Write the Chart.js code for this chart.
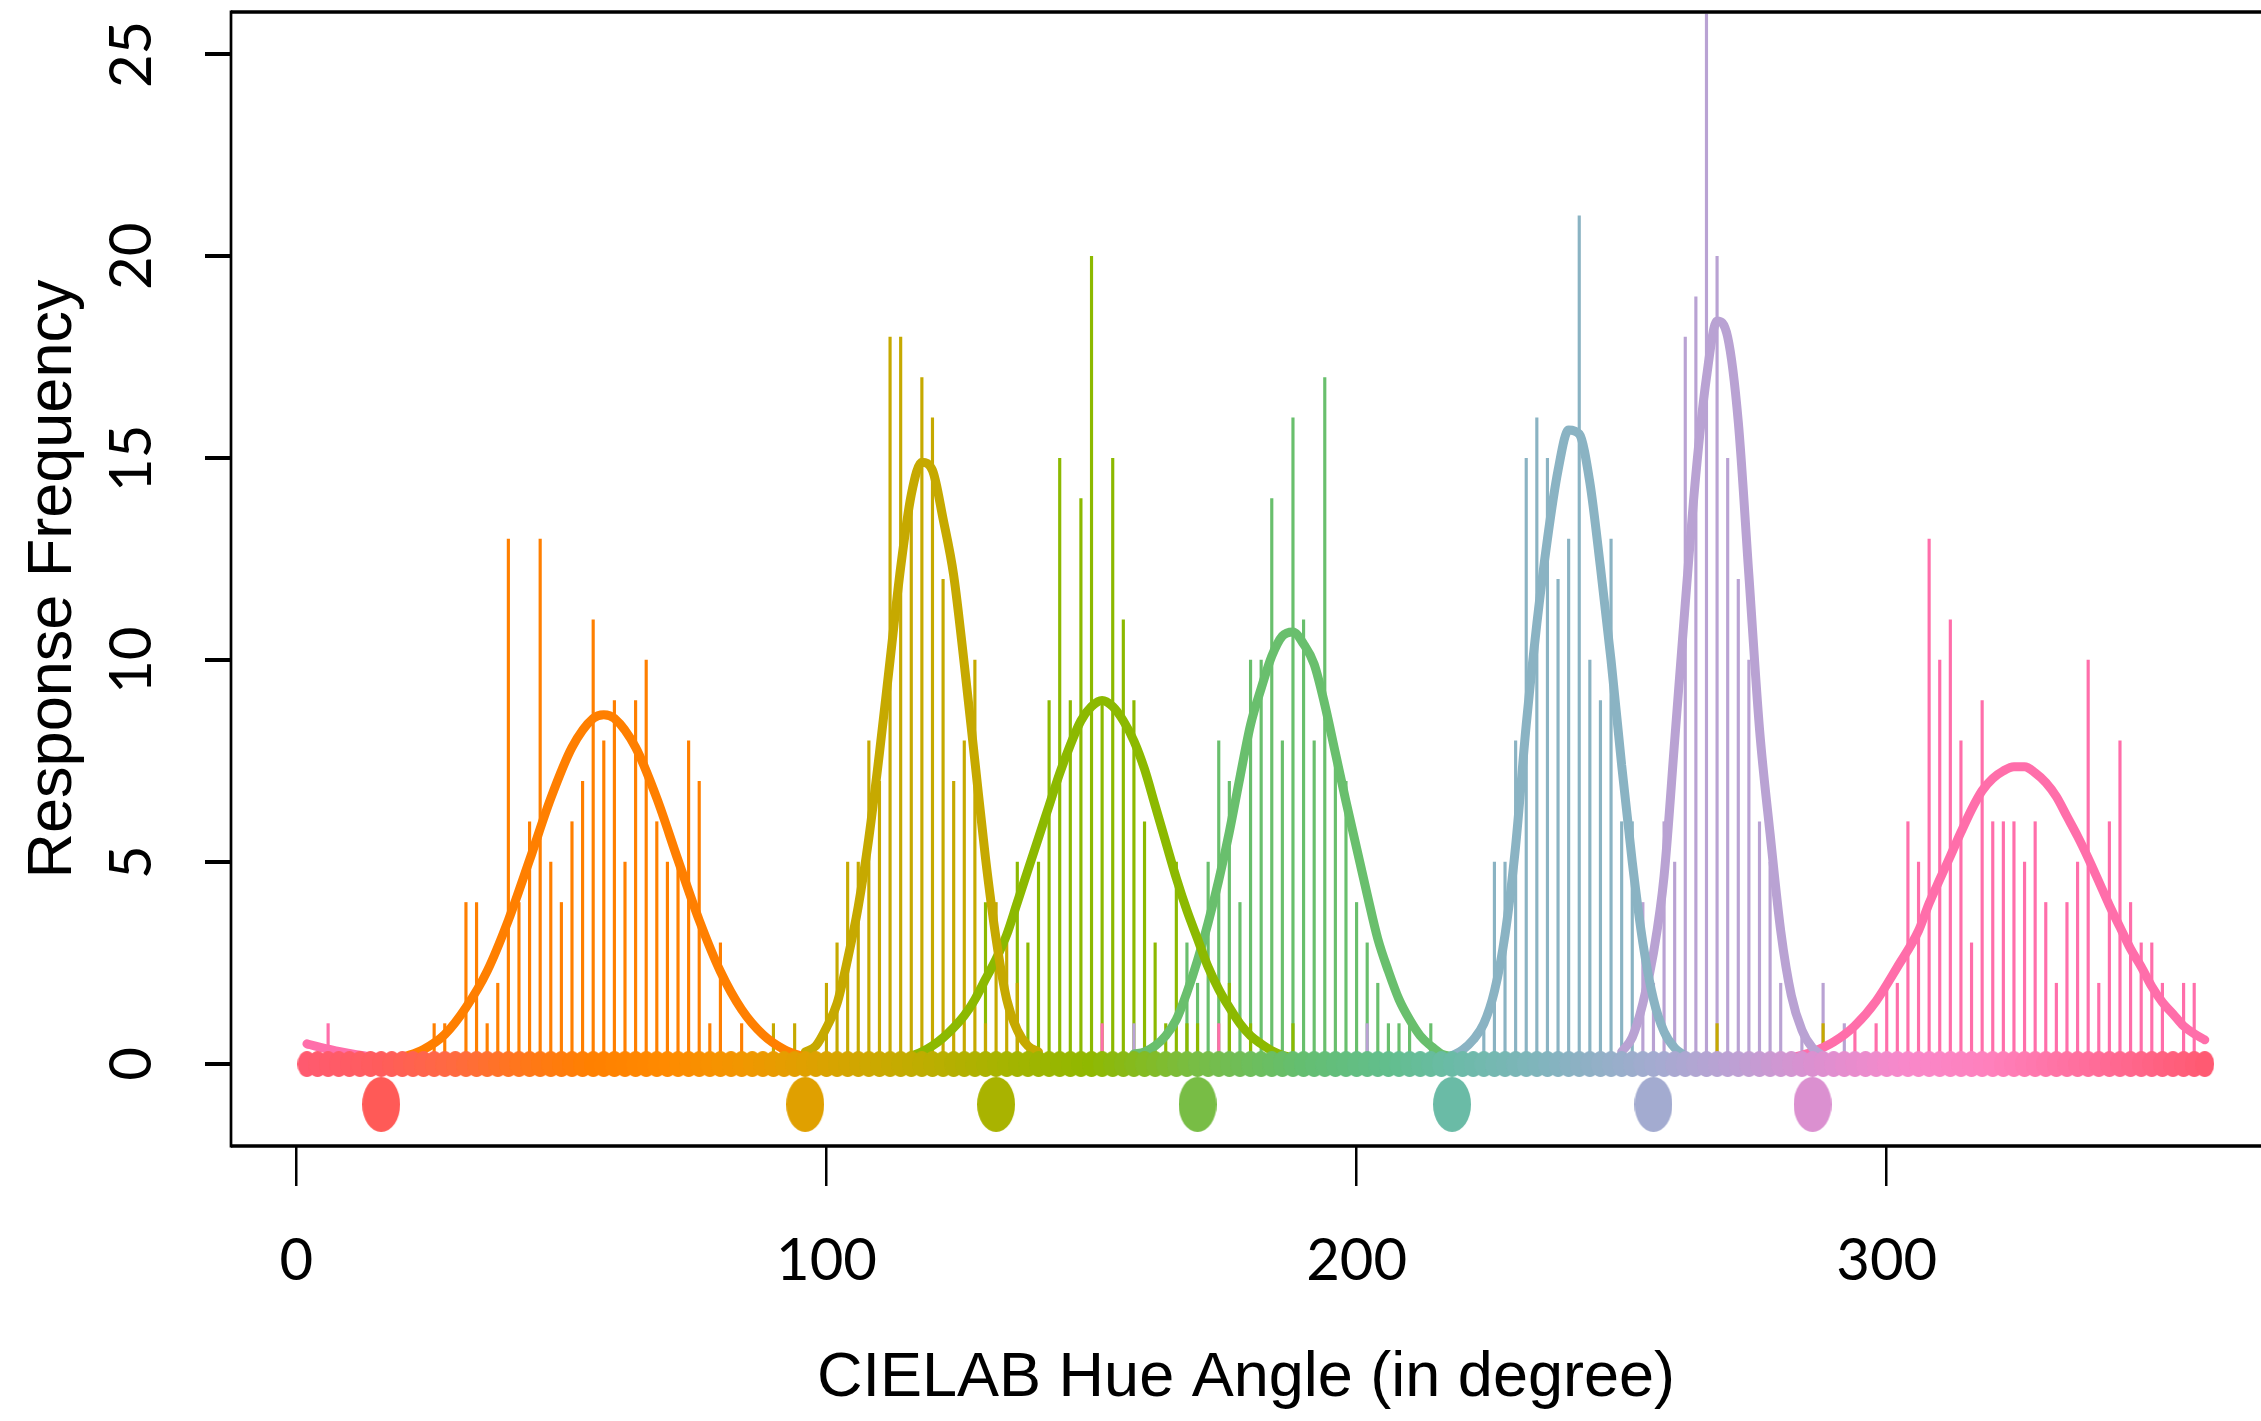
<!DOCTYPE html>
<html>
<head>
<meta charset="utf-8">
<script src="https://cdn.jsdelivr.net/npm/chart.js@4.4.1/dist/chart.umd.min.js"></script>
<style>
  html, body { margin: 0; padding: 0; background: #fff; overflow: hidden; }
  #c { display: block; }
</style>
</head>
<body>
<canvas id="c" width="2261" height="1421"></canvas>
<script>
// Hue naming responses: spikes per hue, fitted curves, focal hues
const xTicks = [0, 100, 200, 300];
const yTicks = [0, 5, 10, 15, 20, 25];

// response counts [hue angle, count], one list per colour category
const spikesOrange = [[26,1],[28,1],[32,4],[34,4],[36,1],[38,2],[40,13],[42,4],[44,6],[46,13],[48,5],[50,4],[52,6],[54,7],[56,11],[58,8],[60,9],[62,5],[64,9],[66,10],[68,6],[70,5],[72,5],[74,8],[76,7],[78,1],[80,3],[84,1]];
const spikesGold = [[90,1],[94,1],[100,2],[102,3],[104,5],[106,5],[108,8],[110,7],[112,18],[114,18],[116,14],[118,17],[120,16],[122,12],[124,7],[126,8],[128,10],[130,1],[132,4],[134,3],[136,2],[268,1],[288,1]];
const spikesLime = [[130,4],[136,5],[138,3],[140,5],[142,9],[144,15],[146,9],[148,14],[150,20],[152,9],[154,15],[156,11],[158,9],[160,6],[162,3],[164,1],[166,5],[168,1],[170,1],[176,2],[180,1],[188,1]];
const spikesGreen = [[168,3],[170,2],[172,5],[174,8],[176,7],[178,4],[180,10],[182,10],[184,14],[186,8],[188,16],[190,11],[192,8],[194,17],[196,8],[198,7],[200,4],[202,3],[204,2],[206,1],[208,1],[210,1],[214,1]];
const spikesSteel = [[224,1],[226,5],[228,5],[230,8],[232,15],[234,16],[236,15],[238,12],[240,13],[242,21],[244,10],[246,9],[248,13],[250,6],[252,6]];
const spikesLilac = [[158,1],[202,1],[254,4],[256,2],[258,6],[260,5],[262,18],[264,19],[266,26],[268,20],[270,15],[272,12],[274,10],[276,6],[278,5],[280,2],[284,1],[288,2],[292,1]];
const spikesPink = [[6,1],[152,1],[174,1],[294,1],[298,1],[300,2],[302,2],[304,6],[306,5],[308,13],[310,10],[312,11],[314,8],[316,3],[318,9],[320,6],[322,6],[324,6],[326,5],[328,6],[330,4],[332,2],[334,4],[336,5],[338,10],[340,2],[342,6],[344,8],[346,4],[348,3],[350,3],[352,2],[356,2],[358,2]];

// fitted curves [hue angle, frequency]
const curveOrange = [[20,0.16],[24,0.36],[28,0.73],[32,1.4],[36,2.3],[40,3.56],[44,5.05],[48,6.58],[52,7.84],[56,8.56],[58,8.65],[60,8.56],[64,7.84],[68,6.58],[72,5.05],[76,3.56],[80,2.29],[84,1.35],[88,0.73],[92,0.36],[96,0.16]];
const curveGold = [[96,0.3],[98,0.45],[100,0.9],[102,1.5],[104,2.6],[106,3.9],[108,5.6],[110,7.7],[112,10.0],[114,12.3],[116,14.1],[118,14.9],[120,14.7],[122,13.5],[124,12.1],[126,9.9],[128,7.5],[130,5.1],[132,3.1],[134,1.6],[136,0.84],[138,0.45],[140,0.3]];
const curveLime = [[116,0.2],[118,0.3],[120,0.45],[122,0.65],[124,0.9],[126,1.2],[128,1.6],[130,2.1],[132,2.6],[134,3.2],[136,4.0],[138,4.8],[140,5.6],[142,6.4],[144,7.2],[146,7.9],[148,8.5],[150,8.85],[152,9.0],[154,8.85],[156,8.5],[158,8.0],[160,7.3],[162,6.4],[164,5.5],[166,4.6],[168,3.8],[170,3.1],[172,2.4],[174,1.85],[176,1.4],[178,1.0],[180,0.7],[182,0.5],[184,0.33],[186,0.22],[188,0.15]];
const curveGreen = [[158,0.25],[160,0.3],[162,0.45],[164,0.7],[166,1.1],[168,1.77],[170,2.57],[172,3.5],[174,4.55],[176,5.75],[178,7.1],[180,8.4],[182,9.3],[184,10.1],[186,10.6],[188,10.7],[190,10.4],[192,9.9],[194,8.9],[196,7.7],[198,6.5],[200,5.35],[202,4.2],[204,3.1],[206,2.3],[208,1.6],[210,1.1],[212,0.7],[214,0.45],[216,0.25],[218,0.18]];
const curveSteel = [[218,0.2],[220,0.35],[222,0.6],[224,1.0],[226,1.8],[228,3.2],[230,5.4],[232,8.4],[234,10.9],[236,13.0],[238,14.7],[240,15.7],[242,15.6],[244,14.4],[246,12.3],[248,10.0],[250,7.4],[252,5.0],[254,3.0],[256,1.6],[258,0.8],[260,0.4],[262,0.2]];
const curveLilac = [[250,0.3],[252,0.66],[254,1.5],[256,2.75],[258,4.65],[260,8.0],[262,11.4],[264,14.6],[266,17.0],[268,18.4],[270,18.0],[272,15.9],[274,12.1],[276,8.3],[278,5.7],[280,3.3],[282,1.7],[284,0.84],[286,0.4],[288,0.2]];
const curvePinkLow = [[2,0.5],[4,0.43],[6,0.37],[8,0.31],[10,0.26],[12,0.22],[14,0.18],[16,0.15],[18,0.12],[20,0.1]];
const curvePinkHigh = [[282,0.15],[286,0.3],[290,0.55],[294,0.95],[298,1.56],[302,2.4],[306,3.3],[308,3.98],[310,4.57],[312,5.15],[314,5.74],[316,6.3],[318,6.77],[320,7.07],[322,7.26],[324,7.36],[326,7.36],[328,7.21],[330,6.97],[332,6.62],[334,6.13],[336,5.64],[338,5.1],[340,4.52],[342,3.93],[344,3.39],[346,2.85],[348,2.41],[350,1.92],[352,1.53],[354,1.24],[356,0.94],[358,0.75],[360,0.6]];

// focal hue of each category, shown at y = -1
const focalHue = [16, 96, 132, 170, 218, 256, 286];
const focalColor = ['#FF5A57', '#E0A000', '#A9B300', '#78BD45', '#6ABBA6', '#A3ABD0', '#DB90D0'];

// hue samples along the baseline (every 2 degrees)
const hueGrid = Array.from({length: 180}, (_, i) => 2 + i * 2);
const hueStops = [[0,'#FF5A72'],[16,'#FF5C5C'],[30,'#FF6A40'],[44,'#FF7818'],[56,'#FF8000'],[70,'#FF8A00'],[84,'#F29600'],[96,'#E0A000'],[112,'#C8AA00'],[132,'#A9B300'],[150,'#90B800'],[170,'#78BD45'],[190,'#64BE70'],[206,'#62BE8C'],[218,'#6ABBA6'],[236,'#82B4BE'],[256,'#A3ABD0'],[272,'#BEA0D4'],[286,'#DB90D0'],[304,'#F888CA'],[320,'#FF80BC'],[340,'#FF6C98'],[360,'#FF5A72']];

const colOrange = '#FF7F00', colGold = '#C6A900', colLime = '#8CB900', colGreen = '#69BF6D',
      colSteel = '#8AB3C3', colLilac = '#B9A2D3', colPink = '#FF6EAA';

function mix(a, b, t) {
  const pa = parseInt(a.slice(1), 16), pb = parseInt(b.slice(1), 16);
  const ch = s => Math.round(((pa >> s) & 255) * (1 - t) + ((pb >> s) & 255) * t);
  return `rgb(${ch(16)},${ch(8)},${ch(0)})`;
}
function hueColor(h) {
  for (let i = 1; i < hueStops.length; i++) {
    const [h1, c1] = hueStops[i - 1], [h2, c2] = hueStops[i];
    if (h <= h2) return mix(c1, c2, (h - h1) / (h2 - h1));
  }
  return hueStops[hueStops.length - 1][1];
}
// filled ellipse used as point style
function blob(color, w, h) {
  const c = document.createElement('canvas');
  c.width = w; c.height = h;
  const g = c.getContext('2d');
  g.fillStyle = color;
  g.beginPath(); g.ellipse(w / 2, h / 2, w / 2, h / 2, 0, 0, Math.PI * 2); g.fill();
  return c;
}

// spikes: drawn in this order so the small stubs sit on top
const spikeSets = [
  [spikesOrange, colOrange], [spikesGreen, colGreen], [spikesSteel, colSteel], [spikesLime, colLime],
  [spikesLilac, colLilac], [spikesPink, colPink], [spikesGold, colGold]
].map(([s, col], i) => ({
  type: 'bar', data: s.map(([x, y]) => ({x, y})), backgroundColor: col,
  barThickness: 2.5, grouped: false, borderWidth: 0, order: 30 - i
}));

const curveSets = [
  [curveOrange, colOrange], [curveGold, colGold], [curveLime, colLime], [curveGreen, colGreen],
  [curveSteel, colSteel], [curveLilac, colLilac], [curvePinkLow, colPink], [curvePinkHigh, colPink]
].map(([c, col], i) => ({
  type: 'line', data: c.map(([x, y]) => ({x, y})), borderColor: col, borderWidth: 9,
  pointRadius: 0, fill: false, cubicInterpolationMode: 'monotone',
  borderCapStyle: 'round', borderJoinStyle: 'round', order: 5 + i
}));

const dots = {
  type: 'scatter', data: hueGrid.map(h => ({x: h, y: 0})),
  pointStyle: hueGrid.map(h => blob(hueColor(h), 19, 26)), pointRadius: 10, order: 2
};
const focal = {
  type: 'scatter', data: focalHue.map(h => ({x: h, y: -1})),
  pointStyle: focalColor.map(c => blob(c, 38, 55)), pointRadius: 19, order: 1
};

// box: top, left, bottom (right edge is off the picture)
const frame = {
  id: 'frame',
  afterDatasetsDraw(chart) {
    const {ctx, chartArea: a} = chart;
    ctx.save();
    ctx.strokeStyle = '#000';
    ctx.lineWidth = 3.5;
    ctx.beginPath();
    ctx.moveTo(a.left, a.top); ctx.lineTo(a.right + 10, a.top);
    ctx.moveTo(a.left, a.bottom); ctx.lineTo(a.right + 10, a.bottom);
    ctx.stroke();
    ctx.lineWidth = 2.7;
    ctx.beginPath();
    ctx.moveTo(a.left, a.top - 1.5); ctx.lineTo(a.left, a.bottom + 1.5);
    ctx.stroke();
    ctx.restore();
  }
};

const tickFont = {family: 'Lato', size: 58};
const titleFont = {family: 'Liberation Sans', size: 63};

new Chart(document.getElementById('c'), {
  type: 'scatter',
  data: {datasets: [...spikeSets, ...curveSets, dots, focal]},
  options: {
    responsive: false, animation: false, events: [], devicePixelRatio: 1,
    layout: {autoPadding: false, padding: {top: 12, right: 0, bottom: 0, left: 0}},
    plugins: {legend: {display: false}, tooltip: {enabled: false}},
    scales: {
      x: {
        type: 'linear', min: -12.32, max: 370.6, offset: false,
        afterBuildTicks: s => { s.ticks = xTicks.map(v => ({value: v})); },
        afterFit: s => { s.height = 275; s.paddingLeft = 0; s.paddingRight = 0; },
        ticks: {font: tickFont, color: '#000', padding: 40, minRotation: 0, maxRotation: 0},
        grid: {offset: false, drawOnChartArea: false, drawTicks: true, tickLength: 40, tickWidth: 2.5, lineWidth: 2.5, tickColor: '#000'},
        border: {display: false},
        title: {display: true, text: 'CIELAB Hue Angle (in degree)', font: titleFont, color: '#000', padding: {top: 0, bottom: 5}}
      },
      y: {
        type: 'linear', min: -2.03, max: 26.05, offset: false,
        afterBuildTicks: s => { s.ticks = yTicks.map(v => ({value: v})); },
        afterFit: s => { s.width = 231; s.paddingTop = 0; s.paddingBottom = 0; },
        ticks: {font: tickFont, color: '#000', padding: 39, minRotation: 90, maxRotation: 90, crossAlign: 'center'},
        grid: {drawOnChartArea: false, drawTicks: true, tickLength: 26, tickWidth: 4, lineWidth: 4, tickColor: '#000'},
        border: {display: false},
        title: {display: true, text: 'Response Frequency', font: titleFont, color: '#000', padding: {top: 16, bottom: 0}}
      }
    }
  },
  plugins: [frame]
});
</script>
</body>
</html>
